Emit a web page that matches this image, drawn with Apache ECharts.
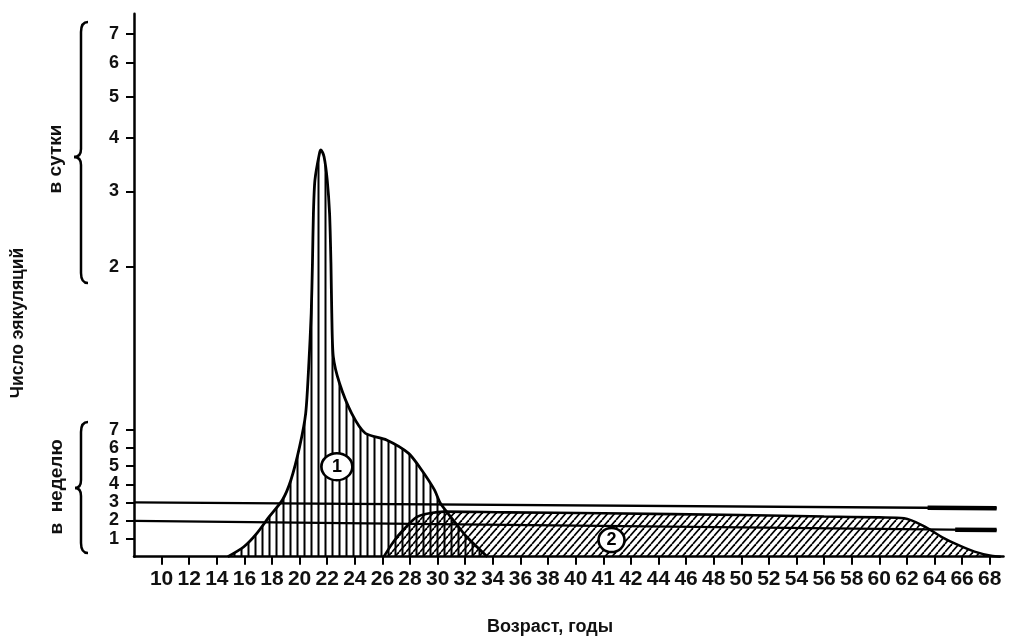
<!DOCTYPE html>
<html>
<head>
<meta charset="utf-8">
<script src="https://cdn.jsdelivr.net/npm/echarts@6/dist/echarts.min.js"></script>
<style>
html,body{margin:0;padding:0;background:#fff;}
#chart{width:1009px;height:638px;}
</style>
</head>
<body>
<div id="chart"></div>
<script>
// ---------- DATA ----------
// x-axis tick labels (as printed, including the extra "41")
const xTickLabels = [10,12,14,16,18,20,22,24,26,28,30,32,34,36,38,40,41,42,44,46,48,50,52,54,56,58,60,62,64,66,68];
// lower scale: ejaculations per week
const weekTickLabels = [1,2,3,4,5,6,7];
// upper scale: ejaculations per day (compressed, logarithmic)
const dayTickLabels = [2,3,4,5,6,7];

// curve 1 (vertical hatching): age, height in axis units
const curve1Age    = [14.8, 15.96, 16.9, 17.8, 18.75, 19.37, 20.0, 20.44, 20.67, 20.84, 20.93, 21.0, 21.11, 21.44, 21.55, 21.77, 22.0, 22.17, 22.27, 22.33, 22.44, 22.89, 23.77, 24.76, 26.3, 27.9, 28.84, 29.77, 30.2, 31.3, 32.1, 33.6];
const curve1Height = [0, 0.55, 1.29, 2.21, 3.13, 4.24, 6.08, 7.92, 10.68, 13.45, 16.21, 18.97, 20.81, 22.29, 22.47, 22.1, 20.81, 18.97, 16.21, 13.45, 11.05, 9.58, 7.92, 6.82, 6.45, 5.71, 4.79, 3.69, 2.95, 1.86, 1.1, 0];

// curve 2 (diagonal hatching)
const curve2Age    = [26.1, 26.8, 27.5, 28.5, 29.4, 30.5, 35, 41, 50, 56, 60, 61.8, 63.3, 64.5, 65.7, 66.9, 68.1, 68.8];
const curve2Height = [0, 0.83, 1.48, 2.2, 2.4, 2.49, 2.45, 2.4, 2.3, 2.22, 2.17, 2.12, 1.66, 1.1, 0.65, 0.28, 0.05, 0];

// horizontal reference lines (3 and 2 per week), start/end as drawn
const refLineAge    = [8, 68.5];
const refLine3      = [3.0, 2.68];
const refLine2      = [1.98, 1.47];
// ages where the heavy, ragged line ends begin
const refEndAge3 = 63.5;
const refEndAge2 = 65.5;

// circled curve numbers
const markerText   = ['1', '2'];
const markerAge    = [22.7, 41.3];
const markerHeight = [4.97, 0.92];

// ---------- SCALES ----------
// per-day scale (upper) : position = A + B*ln(perDay)
const DAY_A = 8.92, DAY_B = 10.25;
function dayToAxis(d){ return DAY_A + DAY_B * Math.log(d); }

// age -> slot position on the printed x axis
function ageToSlot(age){
  const L = xTickLabels;
  if (age <= L[0]) return 1 + (age - L[0]) / 2;
  if (age >= L[L.length-1]) return L.length + (age - L[L.length-1]) / 2;
  for (let i = 0; i < L.length - 1; i++){
    if (age >= L[i] && age <= L[i+1]) return i + 1 + (age - L[i]) / (L[i+1] - L[i]);
  }
  return 0;
}
const zip = (ax, ys) => ax.map((a, i) => [ageToSlot(a), ys[i]]);
function lineAt(ys, age){
  const t = (age - refLineAge[0]) / (refLineAge[1] - refLineAge[0]);
  return ys[0] + (ys[1] - ys[0]) * t;
}

const xTickPos = xTickLabels.map((_, i) => i + 1);
const yLabelMap = new Map();
weekTickLabels.forEach(v => yLabelMap.set(v.toFixed(3), String(v)));
dayTickLabels.forEach(v => yLabelMap.set(dayToAxis(v).toFixed(3), String(v)));
const yTickPos = weekTickLabels.slice().concat(dayTickLabels.map(dayToAxis));

// ---------- PATTERNS ----------
function verticalHatch(){
  const c = document.createElement('canvas'); c.width = 7; c.height = 7;
  const g = c.getContext('2d'); g.fillStyle = '#000'; g.fillRect(2.5, 0, 2, 7);
  return c;
}
function diagonalHatch(){
  const w = 7, h = 8;
  const c = document.createElement('canvas'); c.width = w; c.height = h;
  const g = c.getContext('2d'); g.strokeStyle = '#000'; g.lineWidth = 1.7;
  for (let k = -1; k <= 1; k++){ g.beginPath(); g.moveTo(k*w, h); g.lineTo(k*w + w, 0); g.stroke(); }
  return c;
}

// ---------- BRACES (annotation) ----------
function brace(xEnd, xMid, xTip, yTop, yTip, yBot){
  const st = {fill: 'none', stroke: '#000', lineWidth: 2.5};
  return [
    {type: 'bezierCurve', shape: {x1: xEnd, y1: yTop, cpx1: xMid, cpy1: yTop, x2: xMid, y2: yTop + 10}, style: st},
    {type: 'line', shape: {x1: xMid, y1: yTop + 10, x2: xMid, y2: yTip - 8}, style: st},
    {type: 'bezierCurve', shape: {x1: xMid, y1: yTip - 8, cpx1: xMid, cpy1: yTip, x2: xTip, y2: yTip}, style: st},
    {type: 'bezierCurve', shape: {x1: xTip, y1: yTip, cpx1: xMid, cpy1: yTip, x2: xMid, y2: yTip + 8}, style: st},
    {type: 'line', shape: {x1: xMid, y1: yTip + 8, x2: xMid, y2: yBot - 10}, style: st},
    {type: 'bezierCurve', shape: {x1: xMid, y1: yBot - 10, cpx1: xMid, cpy1: yBot, x2: xEnd, y2: yBot}, style: st}
  ];
}

const FONT = '"Liberation Sans", Arial, sans-serif';
const chart = echarts.init(document.getElementById('chart'), null, {renderer: 'canvas'});

chart.setOption({
  backgroundColor: '#fff',
  animation: false,
  grid: {left: 134, right: 5.5, top: 13.7, bottom: 81.3, containLabel: false},
  xAxis: {
    type: 'value', min: 0, max: 31.5,
    axisLine: {show: true, onZero: false, lineStyle: {color: '#000', width: 2.5}},
    axisTick: {show: true, customValues: xTickPos, length: 8, lineStyle: {color: '#000', width: 2}},
    axisLabel: {
      show: true, customValues: xTickPos, margin: 12,
      color: '#111', fontFamily: FONT, fontWeight: 'bold', fontSize: 21,
      formatter: v => { const i = Math.round(v) - 1; return (i >= 0 && i < xTickLabels.length) ? String(xTickLabels[i]) : ''; }
    },
    splitLine: {show: false}
  },
  yAxis: {
    type: 'value', min: 0, max: 30,
    axisLine: {show: true, onZero: false, lineStyle: {color: '#000', width: 2.5}},
    axisTick: {show: true, customValues: yTickPos, length: 8, lineStyle: {color: '#000', width: 2}},
    axisLabel: {
      show: true, customValues: yTickPos, margin: 15,
      color: '#111', fontFamily: FONT, fontWeight: 'bold', fontSize: 18,
      formatter: v => yLabelMap.get(Number(v).toFixed(3)) || ''
    },
    splitLine: {show: false}
  },
  series: [
    {
      type: 'line', name: 'curve2', data: zip(curve2Age, curve2Height),
      smooth: 0.3, symbol: 'none', z: 2,
      lineStyle: {color: '#000', width: 2.6},
      areaStyle: {color: {image: diagonalHatch(), repeat: 'repeat'}, opacity: 1}
    },
    {
      type: 'line', name: 'curve1', data: zip(curve1Age, curve1Height),
      smooth: 0.25, symbol: 'none', z: 3,
      lineStyle: {color: '#000', width: 2.8},
      areaStyle: {color: {image: verticalHatch(), repeat: 'repeat'}, opacity: 1}
    },
    {
      type: 'line', name: 'ref3', data: zip(refLineAge, refLine3),
      symbol: 'none', z: 4, lineStyle: {color: '#000', width: 2.4}
    },
    {
      type: 'line', name: 'ref2', data: zip(refLineAge, refLine2),
      symbol: 'none', z: 4, lineStyle: {color: '#000', width: 2.4}
    },
    {
      type: 'line', name: 'ref3end', data: zip([refEndAge3, refLineAge[1]], [lineAt(refLine3, refEndAge3), refLine3[1]]),
      symbol: 'none', z: 4, lineStyle: {color: '#000', width: 4.5}
    },
    {
      type: 'line', name: 'ref2end', data: zip([refEndAge2, refLineAge[1]], [lineAt(refLine2, refEndAge2), refLine2[1]]),
      symbol: 'none', z: 4, lineStyle: {color: '#000', width: 4.5}
    },
    {
      type: 'scatter', name: 'markers', z: 6,
      data: markerText.map((t, i) => ({
        value: [ageToSlot(markerAge[i]), markerHeight[i]], name: t,
        symbolSize: i === 0 ? [31, 27] : [26, 24]
      })),
      symbol: 'circle',
      itemStyle: {color: '#fff', borderColor: '#000', borderWidth: 2.5, opacity: 1},
      label: {show: true, position: 'inside', formatter: p => p.name, color: '#000', fontFamily: FONT, fontWeight: 'bold', fontSize: 18}
    }
  ],
  graphic: [
    {type: 'text', x: 18, y: 323, rotation: Math.PI/2,
     style: {text: 'Число эякуляций', fontFamily: FONT, fontWeight: 'bold', fontSize: 17.5, fill: '#111', textAlign: 'center', textVerticalAlign: 'middle'}},
    {type: 'text', x: 56, y: 159, rotation: Math.PI/2,
     style: {text: 'в сутки', fontFamily: FONT, fontWeight: 'bold', fontSize: 19, fill: '#111', textAlign: 'center', textVerticalAlign: 'middle'}},
    {type: 'text', x: 57, y: 487, rotation: Math.PI/2,
     style: {text: 'в  неделю', fontFamily: FONT, fontWeight: 'bold', fontSize: 19, fill: '#111', textAlign: 'center', textVerticalAlign: 'middle'}},
    {type: 'text', x: 550, y: 627,
     style: {text: 'Возраст, годы', fontFamily: FONT, fontWeight: 'bold', fontSize: 18, fill: '#111', textAlign: 'center', textVerticalAlign: 'middle'}}
  ].concat(brace(88, 81, 74, 22, 157, 283), brace(88, 81, 75, 422, 488, 553))
});
</script>
</body>
</html>
